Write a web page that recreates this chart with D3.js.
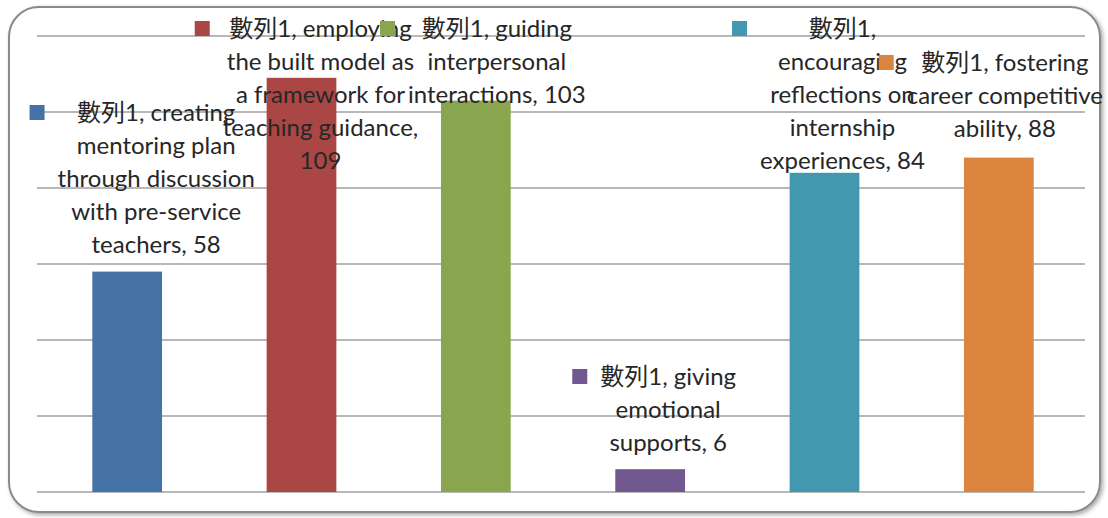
<!DOCTYPE html>
<html lang="en">
<head>
  <meta charset="UTF-8">
  <title>數列1</title>
  <script src="https://d3js.org/d3.v7.min.js"></script>
  <style>
    body { margin: 0; background: #fff; }
    .lbl {
      font-family: "Lato", "Noto Sans CJK TC", sans-serif;
      font-size: 24px;
      fill: #262626;
      text-anchor: middle;
    }
    .grid line { stroke: #a0a0a0; stroke-width: 1.5; }
  </style>
</head>
<body>
  <svg id="chart" width="1108" height="518"></svg>

  <script>
    // Data
    const seriesName = "數列1";
    const categories = [
      "creating mentoring plan through discussion with pre-service teachers",
      "employing the built model as a framework for teaching guidance",
      "guiding interpersonal interactions",
      "giving emotional supports",
      "encouraging reflections on internship experiences",
      "fostering career competitive ability"
    ];
    const values = [58, 109, 103, 6, 84, 88];
    const colors = ["#4572A7", "#AA4643", "#89A54E", "#71588F", "#4198AF", "#DB843D"];
    const yTicks = [0, 20, 40, 60, 80, 100, 120];

    // label text as wrapped in the picture
    const labelLines = [
      ["數列1, creating", "mentoring plan", "through discussion", "with pre-service", "teachers, 58"],
      ["數列1, employing", "the built model as", "a framework for", "teaching guidance,", "109"],
      ["數列1, guiding", "interpersonal", "interactions, 103"],
      ["數列1, giving", "emotional", "supports, 6"],
      ["數列1,", "encouraging", "reflections on", "internship", "experiences, 84"],
      ["數列1, fostering", "career competitive", "ability, 88"]
    ];

    // label placement: offset from bar centre, centre of first line
    const labelDx = [29, 19, 21, 18, 18, 6];
    const labelTop = [112, 28, 28, 376, 28, 62];
    const lineH = 33;

    const svg = d3.select("#chart");

    // frame with soft shadow
    const defs = svg.append("defs");
    const f = defs.append("filter").attr("id", "sh")
      .attr("x", "-5%").attr("y", "-5%").attr("width", "110%").attr("height", "110%");
    f.append("feDropShadow").attr("dx", 2).attr("dy", 2).attr("stdDeviation", 2)
      .attr("flood-color", "#000").attr("flood-opacity", 0.35);

    svg.append("rect")
      .attr("x", 9).attr("y", 7)
      .attr("width", 1091).attr("height", 505)
      .attr("rx", 30).attr("ry", 30)
      .attr("fill", "#fff")
      .attr("stroke", "#8a8a8a")
      .attr("stroke-width", 2)
      .attr("filter", "url(#sh)");

    const x = d3.scaleBand()
      .domain(categories)
      .range([40, 1086])
      .paddingInner(0.6)
      .paddingOuter(0.3);

    const y = d3.scaleLinear()
      .domain([0, 120])
      .range([492, 36]);

    // gridlines
    svg.append("g").attr("class", "grid")
      .selectAll("line")
      .data(yTicks)
      .enter()
      .append("line")
      .attr("x1", 37).attr("x2", 1085)
      .attr("y1", d => y(d)).attr("y2", d => y(d));

    // bars
    svg.selectAll(".bar")
      .data(values)
      .enter()
      .append("rect")
      .attr("class", "bar")
      .attr("x", (d, i) => x(categories[i]))
      .attr("y", d => y(d))
      .attr("width", x.bandwidth())
      .attr("height", d => y(0) - y(d))
      .attr("fill", (d, i) => colors[i]);

    // data labels with legend keys
    labelLines.forEach((lines, i) => {
      const cx = x(categories[i]) + x.bandwidth() / 2 + labelDx[i];
      const g = svg.append("g");
      let maxW = 0;
      lines.forEach((t, j) => {
        const txt = g.append("text")
          .attr("class", "lbl")
          .attr("x", cx)
          .attr("y", labelTop[i] + j * lineH)
          .attr("dy", "0.36em")
          .text(t);
        maxW = Math.max(maxW, txt.node().getComputedTextLength());
      });
      g.append("rect")
        .attr("x", cx - maxW / 2 - 13 - 15)
        .attr("y", labelTop[i] - 7)
        .attr("width", 15).attr("height", 15)
        .attr("fill", colors[i]);
    });
  </script>
</body>
</html>
